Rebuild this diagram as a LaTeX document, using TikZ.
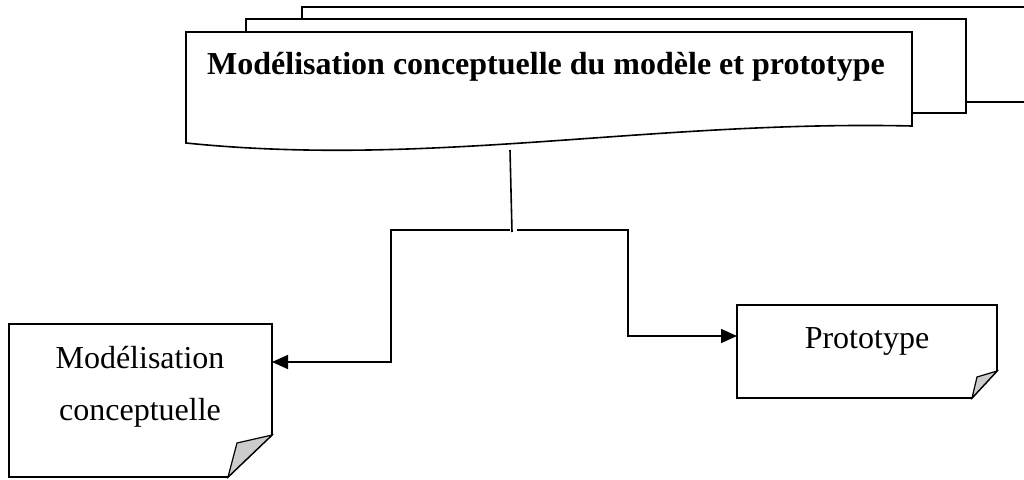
\documentclass[tikz,border=0pt]{standalone}
\usepackage{fontspec}
\setmainfont{Liberation Serif}
\usetikzlibrary{arrows.meta}
\begin{document}
\begin{tikzpicture}[x=1pt,y=-1pt,
  docline/.style={line width=1.6pt, draw=black, fill=white, line join=miter},
  fold/.style={line width=1.2pt, draw=black, fill=gray!40},
  conn/.style={line width=1.6pt},
  arr/.style={conn, -{Triangle[length=16pt,width=14pt]}},
  txt/.style={font=\fontsize{32}{38}\selectfont, align=center, inner sep=0pt}]
\clip (0,0) rectangle (1024,479);
% stacked documents
\draw[docline] (302,7) rectangle (1040,102);
\draw[docline] (246,19) rectangle (966,113);
\draw[docline] (186,32) -- (912,32) -- (912,126)
  .. controls (650,120) and (430,168) .. (186,143) -- cycle;
\node[txt, font=\bfseries\fontsize{32}{38}\selectfont, anchor=base] (top) at (546,74) {Modélisation conceptuelle du modèle et prototype};
\coordinate (topb) at (510,150);
\coordinate (j) at (512,232);
% left document
\draw[docline] (9,324) -- (272,324) -- (272,435) -- (228,477) -- (9,477) -- cycle;
\draw[fold] (272,435) -- (237,443) -- (228,477) -- cycle;
\node[txt, anchor=base] (mc1) at (140,368) {Modélisation};
\node[txt, anchor=base] (mc2) at (140,420) {conceptuelle};
\coordinate (mcin) at (272,362);
% prototype
\draw[docline] (737,305) -- (997,305) -- (997,371) -- (972,398) -- (737,398) -- cycle;
\draw[fold] (997,371) -- (977,377) -- (972,398) -- cycle;
\node[txt, anchor=base] (proto) at (867,348) {Prototype};
\coordinate (protoin) at (737,336);
% connectors
\draw[conn] (topb) -- (j);
\draw[arr] (510,230) -- (391,230) |- (mcin);
\draw[arr] (517,230) -- (628,230) |- (protoin);
\end{tikzpicture}
\end{document}
